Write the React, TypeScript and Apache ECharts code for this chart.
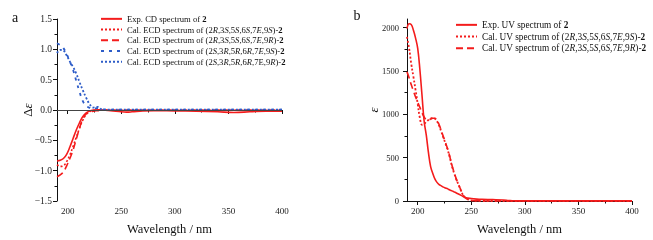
import React, { useEffect, useRef } from "react";
import * as echarts from "echarts";

// ---- Panel a: ECD ----
const WL_CD = [190, 193, 196, 199, 202, 205, 208, 211, 214, 217, 220, 224, 228, 232, 240, 250, 255, 260, 270, 280, 300, 320, 340, 355, 370, 385, 400];
const EXP_CD = [-0.84, -0.83, -0.8, -0.73, -0.61, -0.47, -0.33, -0.21, -0.11, -0.05, -0.02, 0, 0.005, 0, -0.01, -0.03, -0.035, -0.03, -0.015, -0.01, -0.015, -0.02, -0.03, -0.04, -0.03, -0.02, -0.02];
const CAL_CD_RS9S = [-0.9, -0.93, -0.92, -0.85, -0.74, -0.6, -0.45, -0.3, -0.17, -0.08, -0.03, -0.01, 0, 0, -0.005, -0.005, -0.005, -0.005, -0.005, -0.005, -0.005, -0.005, -0.005, -0.005, -0.005, -0.005, -0.005];
const CAL_CD_RS9R = [-1.1, -1.07, -1.02, -0.92, -0.8, -0.66, -0.48, -0.3, -0.15, -0.07, -0.04, -0.02, -0.01, 0, -0.005, -0.005, -0.005, -0.005, -0.005, -0.005, -0.005, -0.005, -0.005, -0.005, -0.005, -0.005, -0.005];
const CAL_CD_SR9S = [1.1, 1.07, 1.02, 0.92, 0.8, 0.66, 0.48, 0.3, 0.15, 0.07, 0.04, 0.02, 0.03, 0.01, 0.005, 0.005, 0.005, 0.005, 0.005, 0.005, 0.005, 0.005, 0.005, 0.005, 0.005, 0.005, 0.005];
const CAL_CD_SR9R = [0.94, 0.99, 0.98, 0.9, 0.8, 0.71, 0.6, 0.46, 0.33, 0.21, 0.11, 0.04, 0.05, 0.01, 0.005, 0.005, 0.005, 0.005, 0.005, 0.005, 0.005, 0.005, 0.005, 0.005, 0.005, 0.005, 0.005];

// ---- Panel b: UV ----
const WL_UV = [190, 192, 194, 196, 198, 200, 202, 204, 206, 208, 210, 212, 214, 216, 218, 220, 222, 224, 226, 228, 230, 232, 234, 236, 238, 240, 242, 245, 250, 255, 260, 270, 280, 285, 290, 300, 350, 400];
const EXP_UV = [1990, 2045, 2035, 1970, 1880, 1760, 1520, 1220, 920, 760, 560, 400, 320, 255, 215, 190, 175, 160, 150, 140, 127, 117, 105, 93, 80, 68, 55, 38, 28, 22, 19, 16, 12, 6, 2, 1, 1, 1];
const CAL_UV_9S = [1893, 1760, 1580, 1432, 1280, 1120, 960, 880, 890, 915, 935, 950, 960, 950, 920, 870, 800, 730, 660, 590, 500, 400, 320, 250, 190, 130, 75, 30, 8, 2, 0, 0, 0, 0, 0, 0, 0, 0];
const CAL_UV_9R = [1490, 1420, 1340, 1270, 1200, 1140, 1080, 1020, 970, 940, 935, 945, 955, 955, 930, 880, 810, 740, 670, 600, 510, 410, 330, 255, 195, 135, 80, 32, 10, 3, 1, 0, 0, 0, 0, 0, 0, 0];

const X_MAJOR = [200, 250, 300, 350, 400];
const X_MINOR = [225, 275, 325, 375];
const CD_MAJOR = [-1.5, -1.0, -0.5, 0, 0.5, 1.0, 1.5];
const CD_MINOR = [-1.25, -0.75, -0.25, 0.25, 0.75, 1.25];
const UV_MAJOR = [0, 500, 1000, 1500, 2000];
const UV_MINOR = [250, 750, 1250, 1750];

const NAMES_CD = [
  "Exp. CD spectrum of *2*",
  "Cal. ECD spectrum of (2_R_,3_S_,5_S_,6_S_,7_E_,9_S_)-*2*",
  "Cal. ECD spectrum of (2_R_,3_S_,5_S_,6_S_,7_E_,9_R_)-*2*",
  "Cal. ECD spectrum of (2_S_,3_R_,5_R_,6_R_,7_E_,9_S_)-*2*",
  "Cal. ECD spectrum of (2_S_,3_R_,5_R_,6_R_,7E,9_R_)-*2*",
];
const NAMES_UV = [
  "Exp. UV spectrum of *2*",
  "Cal. UV spectrum of (2_R_,3_S_,5_S_,6_S_,7_E_,9_S_)-*2*",
  "Cal. UV spectrum of (2_R_,3_S_,5_S_,6_S_,7_E_,9_R_)-*2*",
];

const RED = "#f41c1c";
const BLUE = "#2d5cc8";
const FONT = '"Liberation Serif", "Times New Roman", serif';

function toRich(s: string): string {
  let out = "";
  let buf = "";
  let mode = "n";
  const flush = () => {
    if (buf) out += "{" + mode + "|" + buf + "}";
    buf = "";
  };
  for (const ch of s) {
    if (ch === "_") {
      flush();
      mode = mode === "i" ? "n" : "i";
    } else if (ch === "*") {
      flush();
      mode = mode === "b" ? "n" : "b";
    } else buf += ch;
  }
  flush();
  return out;
}

const pairs = (xs: number[], ys: number[]) => xs.map((x, i) => [x, ys[i]]);

export default function App() {
  const ref = useRef<HTMLDivElement>(null);
  useEffect(() => {
    if (!ref.current) return;
    const chart = echarts.init(ref.current, undefined, { renderer: "svg" });
    const richStyles = (fs: number, lh: number) => ({
      n: { fontSize: fs, fontFamily: FONT, color: "#111", lineHeight: lh },
      i: { fontSize: fs, fontFamily: FONT, color: "#111", fontStyle: "italic", lineHeight: lh },
      b: { fontSize: fs, fontFamily: FONT, color: "#111", fontWeight: "bold", lineHeight: lh },
    });
    const fmtCD = (v: number) => (v === 0 ? "0.0" : v.toFixed(1).replace("-", "\u2212"));
    const xAxisBase = (grid: number, withLabel: boolean) => ({
      type: "value",
      gridIndex: grid,
      position: "bottom",
      min: 190,
      max: 400,
      splitLine: { show: false },
      axisLine: { show: withLabel, lineStyle: { color: "#111", width: 1 } },
      axisTick: withLabel
        ? { show: true, length: 4, customValues: X_MAJOR, lineStyle: { color: "#111" } }
        : { show: true, length: 2.5, customValues: X_MINOR, lineStyle: { color: "#111" } },
      axisLabel: withLabel
        ? { show: true, customValues: X_MAJOR, fontSize: 9, fontFamily: FONT, color: "#222", margin: 5 }
        : { show: false },
      name: withLabel ? "Wavelength / nm" : "",
      nameLocation: "middle",
      nameGap: 21,
      nameTextStyle: { fontSize: 12.5, fontFamily: FONT, color: "#111" },
    });
    const yAxisBase = (grid: number, min: number, max: number, major: number[], minor: number[], withLabel: boolean, fmt: any, fs: number, margin: number) => ({
      type: "value",
      gridIndex: grid,
      position: "left",
      min,
      max,
      splitLine: { show: false },
      axisLine: { show: withLabel, lineStyle: { color: "#111", width: 1 } },
      axisTick: withLabel
        ? { show: true, length: 4, customValues: major, lineStyle: { color: "#111" } }
        : { show: true, length: 2.5, customValues: minor, lineStyle: { color: "#111" } },
      axisLabel: withLabel
        ? { show: true, customValues: major, fontSize: fs, fontFamily: FONT, color: "#222", margin, formatter: fmt }
        : { show: false },
    });
    const line = (name: string, data: any, xi: number, yi: number, color: string, type: any, width: number, extra: any = {}) => ({
      type: "line",
      name,
      data,
      xAxisIndex: xi,
      yAxisIndex: yi,
      symbol: "none",
      showSymbol: false,
      smooth: 0.4,
      lineStyle: { color, type, width },
      itemStyle: { color },
      ...extra,
    });
    const option: any = {
      animation: false,
      textStyle: { fontFamily: FONT },
      grid: [
        { left: 57, top: 19, width: 225, height: 182 },
        { left: 407, top: 19, width: 225, height: 182 },
      ],
      xAxis: [xAxisBase(0, true), xAxisBase(1, true), xAxisBase(0, false), xAxisBase(1, false)],
      yAxis: [
        yAxisBase(0, -1.5, 1.5, CD_MAJOR, CD_MINOR, true, fmtCD, 9.5, 5),
        yAxisBase(1, 0, 2100, UV_MAJOR, UV_MINOR, true, (v: number) => String(v), 8.5, 8),
        yAxisBase(0, -1.5, 1.5, CD_MAJOR, CD_MINOR, false, null, 9, 5),
        yAxisBase(1, 0, 2100, UV_MAJOR, UV_MINOR, false, null, 9, 5),
      ],
      legend: [
        {
          orient: "vertical",
          left: 100,
          top: 13.5,
          padding: 0,
          itemWidth: 21,
          itemHeight: 8,
          itemGap: 0,
          itemStyle: { opacity: 0 },
          data: NAMES_CD,
          formatter: (n: string) => toRich(n),
          textStyle: { fontSize: 8.6, lineHeight: 10.7, fontFamily: FONT, color: "#111", rich: richStyles(8.6, 10.7) },
        },
        {
          orient: "vertical",
          left: 455,
          top: 19,
          padding: 0,
          itemWidth: 21,
          itemHeight: 8,
          itemGap: 0,
          itemStyle: { opacity: 0 },
          data: NAMES_UV,
          formatter: (n: string) => toRich(n),
          textStyle: { fontSize: 9.3, lineHeight: 11.7, fontFamily: FONT, color: "#111", rich: richStyles(9.3, 11.7) },
        },
      ],
      graphic: [
        { type: "text", x: 15, y: 17, style: { text: "a", fontSize: 14, fontFamily: FONT, fill: "#111", align: "center", verticalAlign: "middle" } },
        { type: "text", x: 357, y: 15, style: { text: "b", fontSize: 14, fontFamily: FONT, fill: "#111", align: "center", verticalAlign: "middle" } },
        {
          type: "text", x: 27, y: 110, rotation: Math.PI / 2,
          style: {
            text: "{n|\u0394}{i|\u03b5}", align: "center", verticalAlign: "middle",
            rich: { n: { fontSize: 13, fontFamily: FONT, fill: "#111" }, i: { fontSize: 13, fontFamily: FONT, fontStyle: "italic", fill: "#111" } },
          },
        },
        {
          type: "text", x: 373, y: 110, rotation: Math.PI / 2,
          style: { text: "\u03b5", fontSize: 13, fontStyle: "italic", fontFamily: FONT, fill: "#111", align: "center", verticalAlign: "middle" },
        },
      ],
      series: [
        line(NAMES_CD[0], pairs(WL_CD, EXP_CD), 0, 0, RED, "solid", 1.6, {
          markLine: {
            silent: true,
            symbol: "none",
            label: { show: false },
            lineStyle: { color: "#444", width: 1, type: "solid" },
            data: [{ yAxis: 0 }],
          },
        }),
        line(NAMES_CD[1], pairs(WL_CD, CAL_CD_RS9S), 0, 0, RED, [2, 2], 1.6),
        line(NAMES_CD[2], pairs(WL_CD, CAL_CD_RS9R), 0, 0, RED, [7, 4], 1.6),
        line(NAMES_CD[3], pairs(WL_CD, CAL_CD_SR9S), 0, 0, BLUE, [3, 5], 1.8),
        line(NAMES_CD[4], pairs(WL_CD, CAL_CD_SR9R), 0, 0, BLUE, [2, 2], 1.8),
        line(NAMES_UV[0], pairs(WL_UV, EXP_UV), 1, 1, RED, "solid", 1.6),
        line(NAMES_UV[1], pairs(WL_UV, CAL_UV_9S), 1, 1, RED, [2, 2], 1.8),
        line(NAMES_UV[2], pairs(WL_UV, CAL_UV_9R), 1, 1, RED, [7, 4], 1.6),
      ],
    };
    chart.setOption(option);
    return () => chart.dispose();
  }, []);
  return <div ref={ref} style={{ position: "fixed", left: 0, top: 0, width: 653, height: 240 }} />;
}
